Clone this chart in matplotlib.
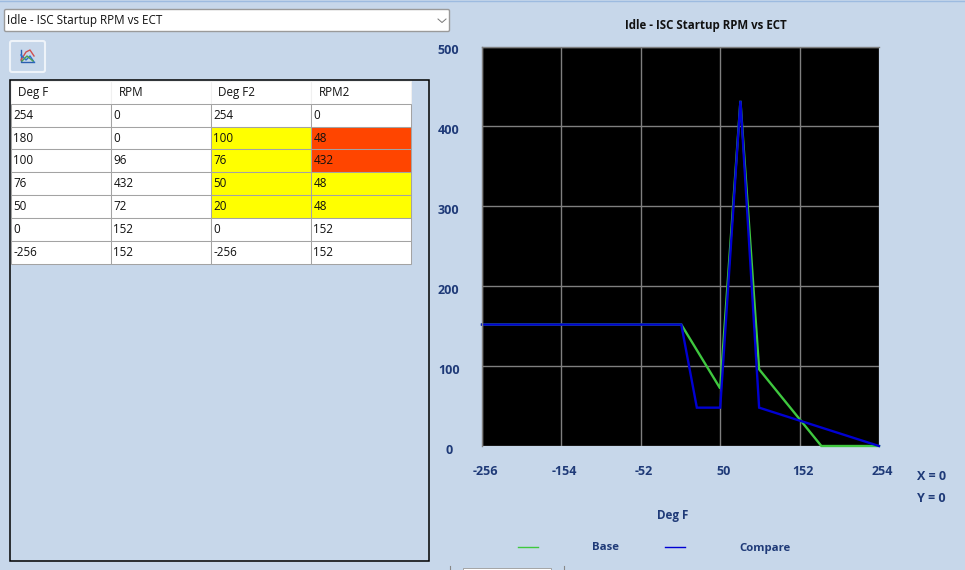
import matplotlib
matplotlib.use("Agg")
from matplotlib import pyplot as plt
from matplotlib.patches import Rectangle, FancyBboxPatch
from matplotlib.transforms import ScaledTranslation

plt.rcParams['font.family'] = ['Open Sans', 'DejaVu Sans']
plt.rcParams['axes.unicode_minus'] = False

title = "Idle - ISC Startup RPM vs ECT"
columns = ["Deg F", "RPM", "Deg F2", "RPM2"]

base_x = [-256, 0, 50, 76, 100, 180, 254]
base_y = [152, 152, 72, 432, 96, 0, 0]
compare_x = [-256, 0, 20, 50, 76, 100, 254]
compare_y = [152, 152, 48, 48, 432, 48, 0]

table_rows = [
    ["254", "0", "254", "0"],
    ["180", "0", "100", "48"],
    ["100", "96", "76", "432"],
    ["76", "432", "50", "48"],
    ["50", "72", "20", "48"],
    ["0", "152", "0", "152"],
    ["-256", "152", "-256", "152"],
]
yellow_cells = [(1, 2), (2, 2), (3, 2), (3, 3), (4, 2), (4, 3)]
orange_cells = [(1, 3), (2, 3)]

x_ticks = [-256, -154, -52, 50, 152, 254]
y_ticks = [0, 100, 200, 300, 400, 500]

BG = "#c7d7ea"
NAVY = "#1f3a78"
W, H = 965, 570


def add_axes_px(fig, left, top, right, bottom):
    return fig.add_axes([left / W, 1 - bottom / H, (right - left) / W, (bottom - top) / H])


fig = plt.figure(figsize=(W / 100, H / 100), dpi=100, facecolor=BG)

# window chrome, in pixel coordinates
ui = fig.add_axes([0, 0, 1, 1], zorder=0)
ui.set_xlim(0, W)
ui.set_ylim(H, 0)
ui.axis("off")
ui.plot([0, W], [0.5, 0.5], color="#9dbbe0", lw=1)
ui.add_patch(FancyBboxPatch((4.5, 9.5), 445, 22, boxstyle="round,pad=0,rounding_size=1.5",
                            fc="white", ec="#9a9a9a", lw=1))
ui.text(7, 20.5, title, fontsize=8.4, va="center", color="#111111")
ui.plot([438, 442, 446], [19, 22.5, 19], color="#777777", lw=0.7)
ui.add_patch(FancyBboxPatch((10, 41), 35, 31, boxstyle="round,pad=0,rounding_size=2",
                            fc=BG, ec="#eef3f9", lw=1.5))
# icon on the button
ui.plot([21, 21, 34], [50, 62, 62], color="#2a5fb0", lw=1)
ui.plot([21, 26, 30, 34], [60, 52, 50, 56], color="#d05050", lw=1)
ui.plot([21, 26, 30, 34], [55, 60, 56, 62], color="#2a70d0", lw=1)
ui.plot([22, 27, 33], [61, 56, 61], color="#50a050", lw=1)
# outer table frame
ui.add_patch(Rectangle((9.5, 79.5), 419, 481, fc="none", ec="black", lw=1.1))
# bit of scrollbar under the chart
ui.plot([450, 450], [566, 570], color="#888888", lw=0.8)
ui.plot([564, 564], [566, 570], color="#888888", lw=0.8)
ui.add_patch(Rectangle((463, 568), 88, 3, fc="white", ec="#999999", lw=0.6))

# table
tab_ax = add_axes_px(fig, 10.5, 81, 410.5, 263.5)
tab_ax.axis("off")
colours = [["white"] * 4 for _ in table_rows]
for r, c in yellow_cells:
    colours[r][c] = "#ffff00"
for r, c in orange_cells:
    colours[r][c] = "#ff4500"
tab = tab_ax.table(cellText=table_rows, colLabels=columns, cellColours=colours,
                   cellLoc="left", colLoc="left", bbox=[0, 0, 1, 1])
tab.auto_set_font_size(False)
tab.set_fontsize(8.4)
for (r, c), cell in tab.get_celld().items():
    cell.set_linewidth(0.75)
    cell.get_text().set_color("#111111")
    if r == 0:
        cell.set_edgecolor("#f0f0f0")
        cell.PAD = 0.08
    else:
        cell.set_edgecolor("#a3a3a3")
        cell.PAD = 0.03

# chart
ax = add_axes_px(fig, 482, 46.5, 879, 446)
ax.set_facecolor("black")
ax.set_xlim(-256, 254)
ax.set_ylim(0, 500)
ax.set_xticks(x_ticks)
ax.set_yticks(y_ticks)
ax.grid(True, color="#7f7f7f", lw=1)
ax.set_axisbelow(True)
ax.plot(base_x, base_y, color="#3fc83f", lw=1.7, label="Base", solid_joinstyle="miter", clip_on=False)
ax.plot(compare_x, compare_y, color="#0000d2", lw=1.7, label="Compare", solid_joinstyle="miter", clip_on=False)
for s in ax.spines.values():
    s.set_color("#7f7f7f")
    s.set_linewidth(1)
ax.spines["right"].set_visible(False)
ax.spines["bottom"].set_visible(False)
ax.tick_params(length=0, colors=NAVY, labelsize=9)
ax.tick_params(axis="x", pad=14)
ax.tick_params(axis="y", pad=24)
for lab in ax.get_xticklabels():
    lab.set_fontweight("bold")
    lab.set_transform(lab.get_transform() + ScaledTranslation(3 / 100, 0, fig.dpi_scale_trans))
for lab in ax.get_yticklabels():
    lab.set_fontweight("bold")
    lab.set_ha("center")
    lab.set_transform(lab.get_transform() + ScaledTranslation(0, -2.5 / 100, fig.dpi_scale_trans))

fig.text(705.5 / W, 1 - 25 / H, title, fontsize=8.3, fontweight="bold", color="#111111",
         ha="center", va="center")
fig.text(673 / W, 1 - 516 / H, "Deg F", fontsize=8.4, fontweight="bold", color=NAVY,
         ha="center", va="center")
fig.text(917 / W, 1 - 477 / H, "X = 0", fontsize=9, fontweight="bold", color=NAVY, va="center")
fig.text(917 / W, 1 - 499 / H, "Y = 0", fontsize=9, fontweight="bold", color=NAVY, va="center")

leg = fig.legend(loc="center left", bbox_to_anchor=(508 / W, 1 - 548 / H), ncol=2, frameon=False,
                 handlelength=1.75, handletextpad=4.75, columnspacing=4.05,
                 prop={"size": 8.2, "weight": "bold"}, labelcolor=NAVY)
for line in leg.get_lines():
    line.set_linewidth(1)

fig.savefig("out.png", dpi=100, facecolor=BG)
